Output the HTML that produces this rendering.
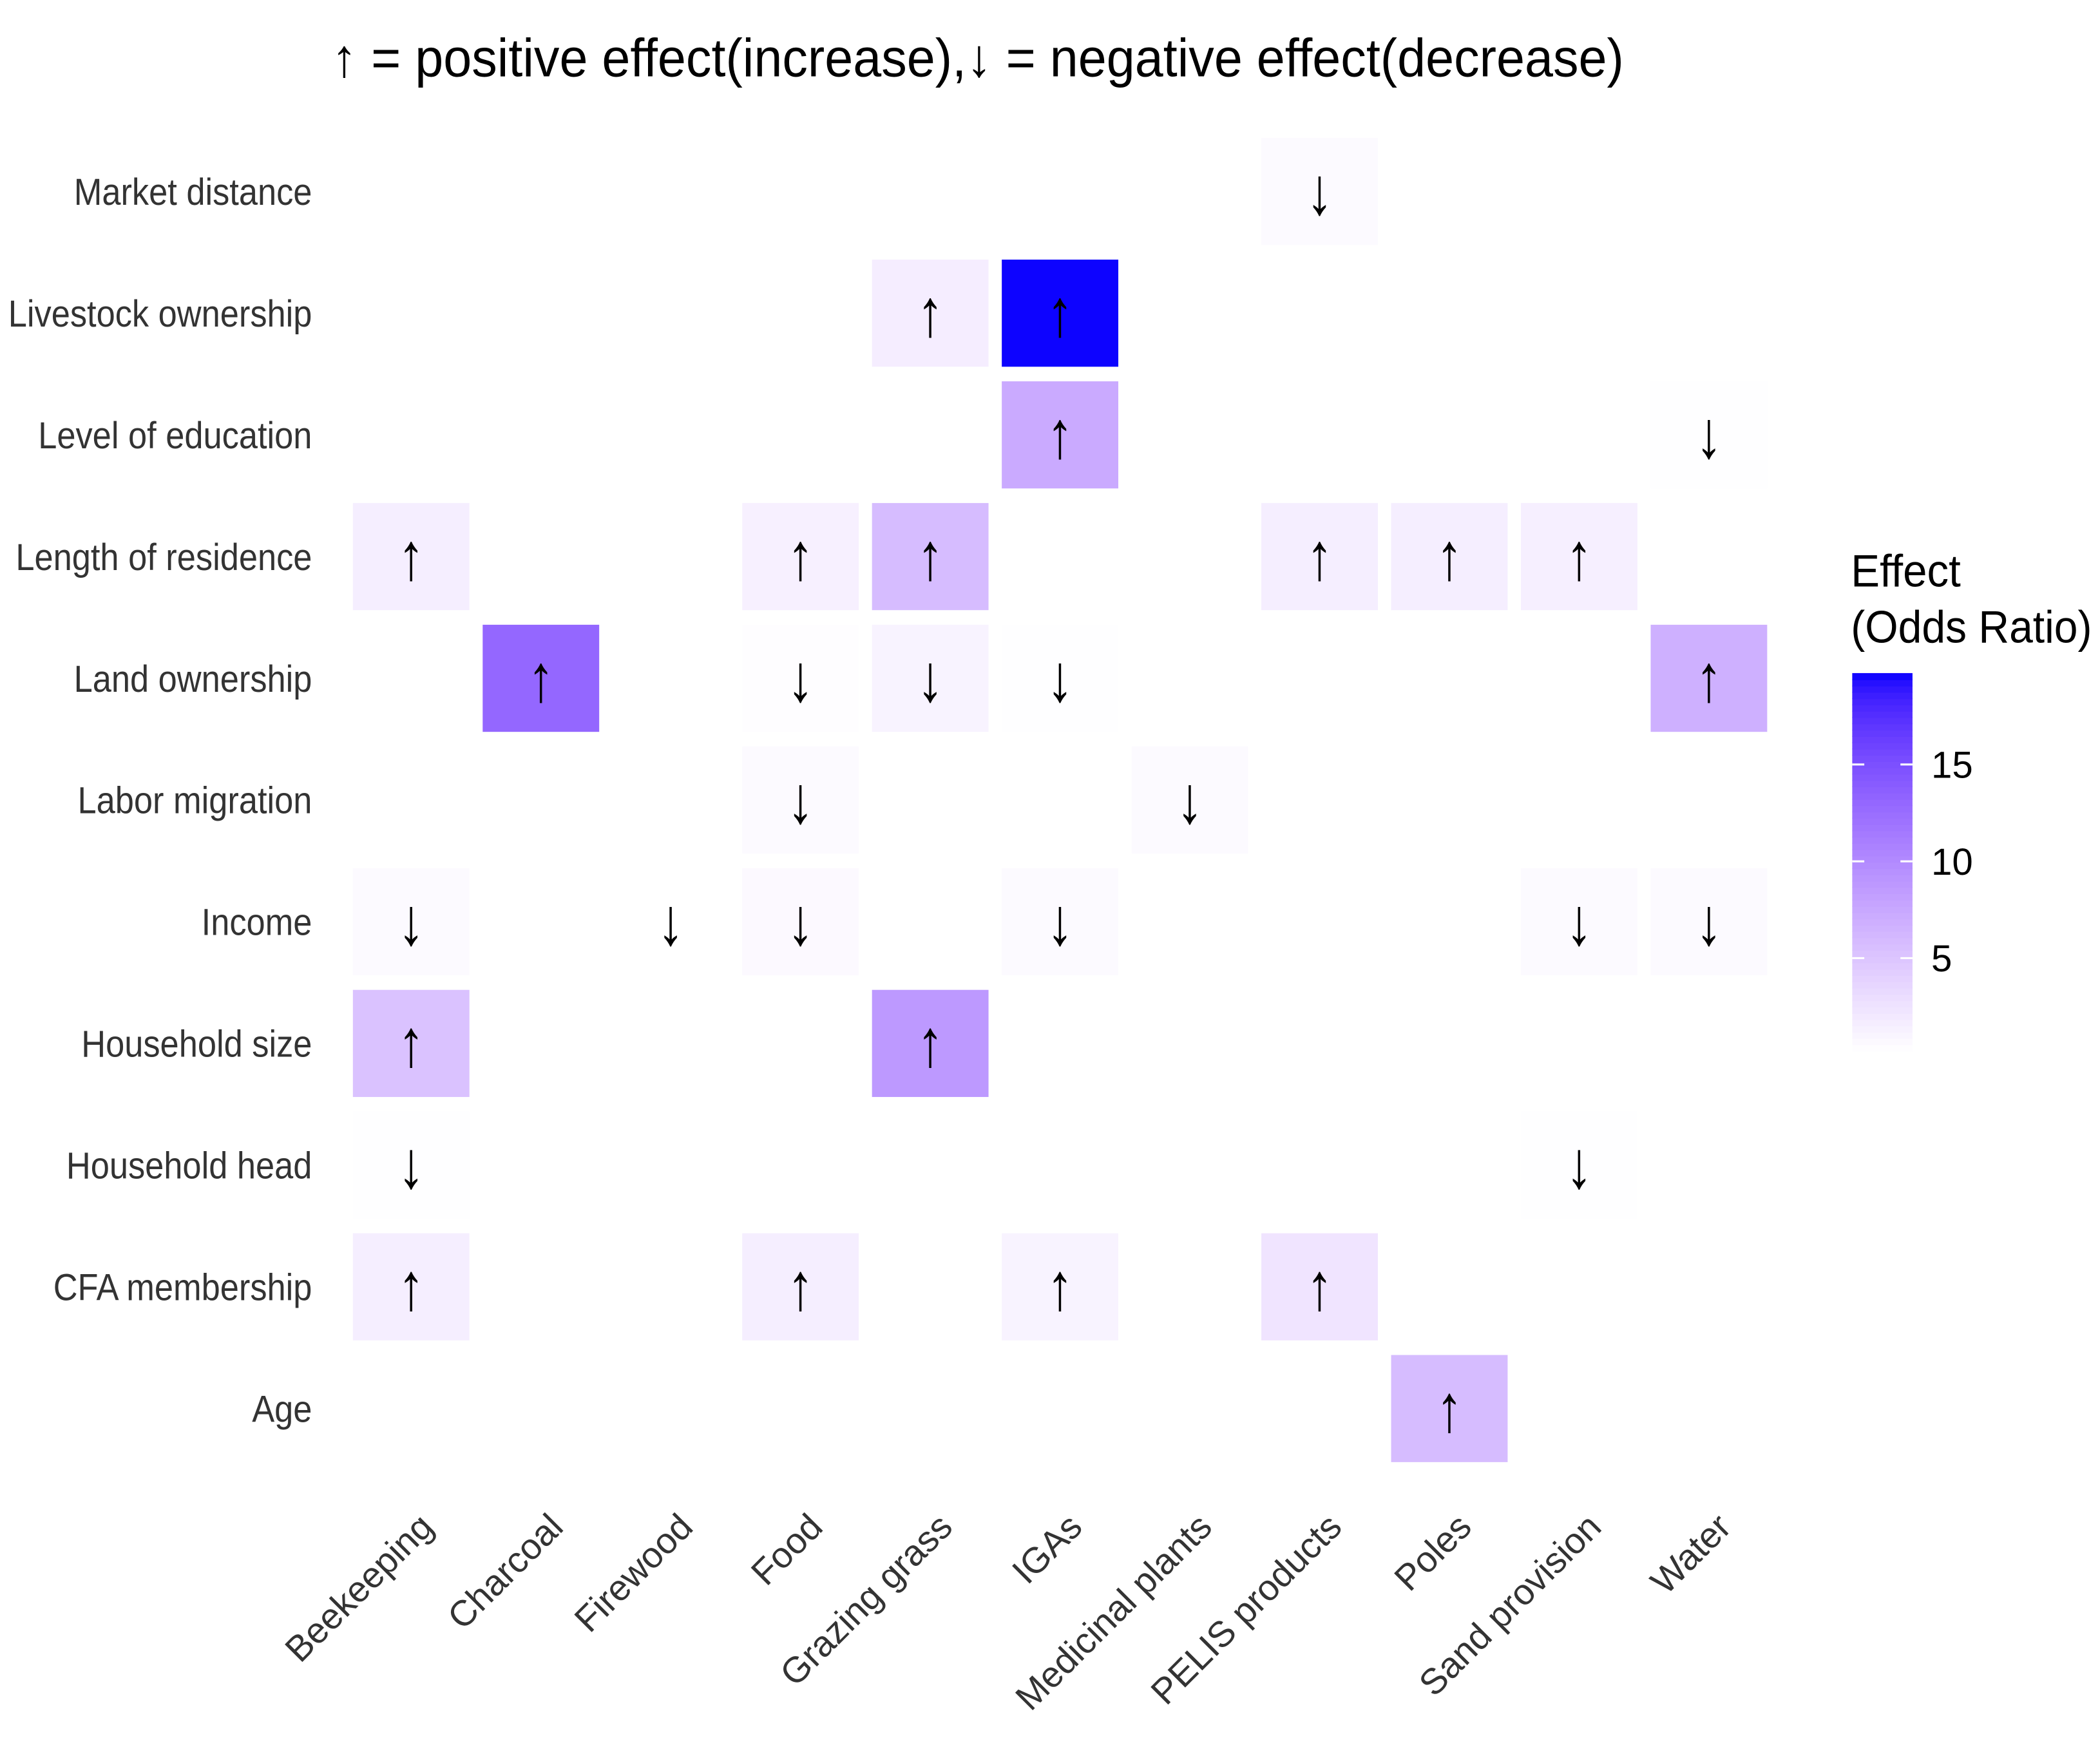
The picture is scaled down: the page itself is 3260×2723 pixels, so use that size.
<!DOCTYPE html>
<html><head><meta charset="utf-8"><style>
html,body{margin:0;padding:0;background:#fff;width:3260px;height:2723px;overflow:hidden}
svg{display:block}
text{font-family:"Liberation Sans",sans-serif}
</style></head><body>
<svg id="chart" width="3260" height="2723" viewBox="0 0 1568 1310" preserveAspectRatio="none" xmlns="http://www.w3.org/2000/svg">
<text x="730" y="57" text-anchor="middle" font-size="40" textLength="965" lengthAdjust="spacingAndGlyphs">↑ = positive effect(increase),↓ = negative effect(decrease)</text>
<g id="tiles"></g>
<g id="ylabels"></g>
<g id="xlabels"></g>
<g id="legend">
<text x="1382" y="438" font-size="34" textLength="82" lengthAdjust="spacingAndGlyphs">Effect</text>
<text x="1382" y="480" font-size="34" textLength="180" lengthAdjust="spacingAndGlyphs">(Odds Ratio)</text>
</g>
</svg>
<script>
const rows = ["Market distance","Livestock ownership","Level of education","Length of residence","Land ownership","Labor migration","Income","Household size","Household head","CFA membership","Age"];
const cols = ["Beekeeping","Charcoal","Firewood","Food","Grazing grass","IGAs","Medicinal plants","PELIS products","Poles","Sand provision","Water"];
const cellRow = [0,1,1,2,2,3,3,3,3,3,3,4,4,4,4,4,5,5,6,6,6,6,6,6,7,7,8,8,9,9,9,9,10];
const cellCol = [7,4,5,5,10,0,3,4,7,8,9,1,3,4,5,10,3,6,0,2,3,5,9,10,0,4,0,9,0,3,5,7,8];
const cellValue = [0.6,1.7,19.6,7.3,0.3,1.6,1.4,5.8,1.6,1.6,1.5,13,0.4,1.2,0.3,6.8,0.6,0.6,0.6,0.2,0.7,0.6,0.6,0.6,5.3,8.8,0.3,0.3,1.6,1.6,1.2,2.4,5.8];
const cellDir = ["down","up","up","up","down","up","up","up","up","up","up","up","down","down","down","up","down","down","down","down","down","down","down","down","up","up","down","down","up","up","up","up","up"];
const legendTicks = [5,10,15];
const vMin = 0.2, vMax = 19.7;

const NS="http://www.w3.org/2000/svg";
const x0=307, dx=96.9, y0=143, dy=90.9, tw=87, th=80;
const xPos=c=>x0+c*dx, yPos=r=>y0+r*dy;
function toLin(c){c/=255;return c<=0.04045?c/12.92:Math.pow((c+0.055)/1.055,2.4);}
function toSrgb(c){c=c<=0.0031308?12.92*c:1.055*Math.pow(c,1/2.4)-0.055;return Math.max(0,Math.min(255,Math.round(c*255)));}
function rgb2lab(r,g,b){r=toLin(r);g=toLin(g);b=toLin(b);
 let X=(r*0.4124+g*0.3576+b*0.1805)/0.95047,Y=(r*0.2126+g*0.7152+b*0.0722),Z=(r*0.0193+g*0.1192+b*0.9505)/1.08883;
 const f=t=>t>0.008856?Math.cbrt(t):7.787*t+16/116;
 return [116*f(Y)-16,500*(f(X)-f(Y)),200*(f(Y)-f(Z))];}
function lab2rgb(L,a,bb){let fy=(L+16)/116,fx=fy+a/500,fz=fy-bb/200;
 const fi=t=>t*t*t>0.008856?t*t*t:(t-16/116)/7.787;
 let X=fi(fx)*0.95047,Y=fi(fy),Z=fi(fz)*1.08883;
 let r=X*3.2406-Y*1.5372-Z*0.4986,g=-X*0.9689+Y*1.8758+Z*0.0415,b=X*0.0557-Y*0.2040+Z*1.0570;
 return `rgb(${toSrgb(r)},${toSrgb(g)},${toSrgb(b)})`;}
const LW=rgb2lab(255,255,255), LB=rgb2lab(0,0,255);
function color(v){let t=Math.max(0,Math.min(1,(v-vMin)/(vMax-vMin)));
 return lab2rgb(LW[0]+(LB[0]-LW[0])*t,LW[1]+(LB[1]-LW[1])*t,LW[2]+(LB[2]-LW[2])*t);}

const tiles=document.getElementById('tiles');
for(let i=0;i<cellValue.length;i++){
 const cx=xPos(cellCol[i]), cy=yPos(cellRow[i]);
 const r=document.createElementNS(NS,'rect');
 r.setAttribute('x',cx-tw/2);r.setAttribute('y',cy-th/2);r.setAttribute('width',tw);r.setAttribute('height',th);
 r.setAttribute('fill',color(cellValue[i]));
 
 
 tiles.appendChild(r);
 const t=document.createElementNS(NS,'text');
 t.setAttribute('x',cx);t.setAttribute('y',cy+17);t.setAttribute('text-anchor','middle');t.setAttribute('font-size','50');
 t.setAttribute('transform',`translate(${cx} 0) scale(0.8 1) translate(${-cx} 0)`);
 t.textContent=cellDir[i]==='up'?'↑':'↓';
 
 
 tiles.appendChild(t);
}
const yl=document.getElementById('ylabels');
rows.forEach((n,r)=>{const t=document.createElementNS(NS,'text');
 t.setAttribute('x',233);t.setAttribute('y',yPos(r)+10);t.setAttribute('text-anchor','end');t.setAttribute('font-size','28');t.setAttribute('fill','#333');
 t.setAttribute('transform',`translate(233 0) scale(0.9 1) translate(-233 0)`);
 t.textContent=n;
 
 
 yl.appendChild(t);});
const xl=document.getElementById('xlabels');
cols.forEach((n,c)=>{const t=document.createElementNS(NS,'text');
 const ex=xPos(c)+18, ey=1142;
 t.setAttribute('x',ex);t.setAttribute('y',ey);t.setAttribute('text-anchor','end');t.setAttribute('font-size','27');t.setAttribute('fill','#333');
 t.setAttribute('transform',`rotate(-45 ${ex} ${ey})`);
 t.textContent=n;
 
 
 xl.appendChild(t);});
const lg=document.getElementById('legend');
const bx=1383,bw=45,bTop=503,bBot=785;
const ly=v=>bBot-(v-vMin)/(vMax-vMin)*(bBot-bTop);
const N=60;
for(let i=0;i<N;i++){const v=vMin+(vMax-vMin)*(i+0.5)/N;const r=document.createElementNS(NS,'rect');
 const h=(bBot-bTop)/N;
 r.setAttribute('x',bx);r.setAttribute('y',bBot-(i+1)*h-0.3);r.setAttribute('width',bw);r.setAttribute('height',h+0.6);r.setAttribute('fill',color(v));
 
 
 lg.appendChild(r);}
legendTicks.forEach(v=>{const y=ly(v);
 [[bx,bx+9],[bx+bw-9,bx+bw]].forEach(([a,b])=>{const l=document.createElementNS(NS,'line');
  l.setAttribute('x1',a);l.setAttribute('x2',b);l.setAttribute('y1',y);l.setAttribute('y2',y);l.setAttribute('stroke','#fff');l.setAttribute('stroke-width','1.5');
  
  
  lg.appendChild(l);});
 const t=document.createElementNS(NS,'text');t.setAttribute('x',1442);t.setAttribute('y',y+10);t.setAttribute('font-size','28');
 t.textContent=v;
 
 
 lg.appendChild(t);});
</script>
</body></html>
